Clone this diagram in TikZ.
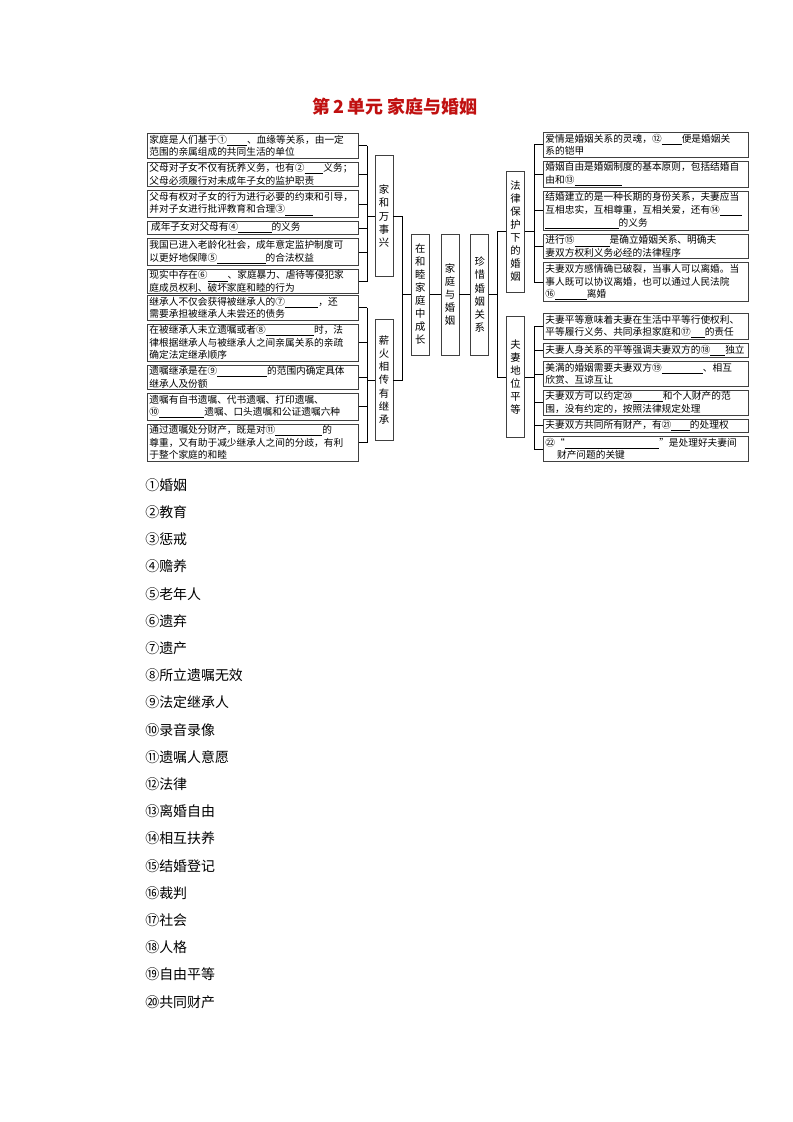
\documentclass[tikz,border=0pt]{standalone}
\usepackage{fontspec}
\setmainfont{Noto Sans CJK SC}
\usepackage{tikz}
\usetikzlibrary{positioning}
\definecolor{titlered}{RGB}{192,16,16}
\newcommand{\blank}[1]{\underline{\makebox[#1]{}}}

\begin{document}
\begin{tikzpicture}[x=0.2648mm, y=-0.2648mm, node distance=0.85mm, line width=0.5pt,
    lbox/.style={draw=black!75, line width=0.6pt, anchor=north west, align=left, text width=54.7mm, inner xsep=0.55mm, inner ysep=1.1pt, font=\fontsize{7.3}{9.5}\selectfont},
    rbox/.style={lbox, text width=53.1mm},
    vbox/.style={draw=black!75, line width=0.6pt, align=center, text width=4.77mm, inner sep=0pt, minimum height=32mm, font=\fontsize{7.8}{9.8}\selectfont},
    ans/.style={anchor=west, inner sep=0pt, font=\fontsize{10.5}{12}\selectfont}]
\useasboundingbox (0,0) rectangle (793,1122);

\node[text=titlered, font=\fontsize{13.5}{16}\selectfont\bfseries] (title) at (395,107) {第\,2\,单元\ 家庭与婚姻};

% centre column
\node[vbox] (core) at (450,294.5) {家\\庭\\与\\婚\\姻};
\node[vbox] (zai)  [left=2.9mm of core]  {在\\和\\睦\\家\\庭\\中\\成\\长};
\node[vbox] (zhen) [right=2.9mm of core] {珍\\惜\\婚\\姻\\关\\系};
\node[vbox] (jia)  at (384,216)   {家\\和\\万\\事\\兴};
\node[vbox] (xin)  at (384,380)   {薪\\火\\相\\传\\有\\继\\承};
\node[vbox] (fa)   at (515.5,231.5) {法\\律\\保\\护\\下\\的\\婚\\姻};
\node[vbox] (fu)   at (515.5,377) {夫\\妻\\地\\位\\平\\等};

% left boxes
\node[lbox] (l1) at (147,133) {家庭是人们基于①\blank{5.3mm}、血缘等关系，由一定\\范围的亲属组成的共同生活的单位};
\node[lbox, below=of l1] (l2) {父母对子女不仅有抚养义务，也有②\blank{5mm}义务；\\父母必须履行对未成年子女的监护职责};
\node[lbox, below=of l2] (l3) {父母有权对子女的行为进行必要的约束和引导，\\并对子女进行批评教育和合理③\blank{7.5mm}};
\node[lbox, below=of l3] (l4) {\,成年子女对父母有④\blank{8.8mm}的义务};
\node[lbox, below=of l4] (l5) {我国已进入老龄化社会，成年意定监护制度可\\以更好地保障⑤\blank{12.8mm}的合法权益};
\node[lbox, below=of l5] (l6) {现实中存在⑥\blank{5.3mm}、家庭暴力、虐待等侵犯家\\庭成员权利、破坏家庭和睦的行为};

\node[lbox] (l7) at (147,295) {继承人不仅会获得被继承人的⑦\blank{8.8mm}，还\\需要承担被继承人未尝还的债务};
\node[lbox, below=of l7] (l8) {在被继承人未立遗嘱或者⑧\blank{12.8mm}时，法\\律根据继承人与被继承人之间亲属关系的亲疏\\确定法定继承顺序};
\node[lbox, below=of l8] (l9) {遗嘱继承是在⑨\blank{13.2mm}的范围内确定具体\\继承人及份额};
\node[lbox, below=of l9] (l10) {遗嘱有自书遗嘱、代书遗嘱、打印遗嘱、\\⑩\blank{12mm}遗嘱、口头遗嘱和公证遗嘱六种};
\node[lbox, below=of l10] (l11) {通过遗嘱处分财产，既是对⑪\blank{12.4mm}的\\尊重，又有助于减少继承人之间的分歧，有利\\于整个家庭的和睦};

% right boxes
\node[rbox] (r1) at (543,132) {爱情是婚姻关系的灵魂，⑫\blank{5.3mm}便是婚姻关\\系的铠甲};
\node[rbox, below=of r1] (r2) {婚姻自由是婚姻制度的基本原则，包括结婚自\\由和⑬\blank{12.5mm}};
\node[rbox, below=of r2] (r3) {结婚建立的是一种长期的身份关系，夫妻应当\\互相忠实，互相尊重，互相关爱，还有⑭\blank{5.9mm}\\\blank{19.4mm}的义务};
\node[rbox, below=of r3] (r4) {进行⑮\blank{9.3mm}是确立婚姻关系、明确夫\\妻双方权利义务必经的法律程序};
\node[rbox, below=of r4] (r5) {夫妻双方感情确已破裂，当事人可以离婚。当\\事人既可以协议离婚，也可以通过人民法院\\⑯\blank{8.4mm}离婚};

\node[rbox] (r6) at (543,313) {夫妻平等意味着夫妻在生活中平等行使权利、\\平等履行义务、共同承担家庭和⑰\blank{3.7mm}的责任};
\node[rbox, below=of r6] (r7) {夫妻人身关系的平等强调夫妻双方的⑱\blank{4mm}独立};
\node[rbox, below=of r7] (r8) {美满的婚姻需要夫妻双方⑲\blank{10.9mm}、相互\\欣赏、互谅互让};
\node[rbox, below=of r8] (r9) {夫妻双方可以约定⑳\blank{8mm}和个人财产的范\\围，没有约定的，按照法律规定处理};
\node[rbox, below=of r9] (r10) {夫妻双方共同所有财产，有㉑\blank{4.9mm}的处理权};
\node[rbox, below=of r10] (r11) {㉒“\blank{25mm}”是处理好夫妻间\\\hspace*{1.2em}财产问题的关键};

% brackets
\coordinate (lb) at (367,0);
\coordinate (rb) at (534,0);
\foreach \i in {1,...,11} {
  \draw (l\i.east) -- (l\i.east -| lb);
  \draw (r\i.west) -- (r\i.west -| rb);
}
\draw (l1.east -| lb) -- (l6.east -| lb);
\draw (l7.east -| lb) -- (l11.east -| lb);
\draw (r1.west -| rb) -- (r5.west -| rb);
\draw (r6.west -| rb) -- (r11.west -| rb);
\draw (jia.west) -- (jia.west -| lb);
\draw (xin.west) -- (xin.west -| lb);
\draw (fa.east) -- (fa.east -| rb);
\draw (fu.east) -- (fu.east -| rb);

\draw (jia.east) -- ++(9,0) coordinate (ls) |- (xin.east);
\draw (zai.west) -- (zai.west -| ls);
\draw (zai.east) -- (core.west);
\draw (core.east) -- (zhen.west);
\draw (fa.west) -- ++(-9,0) coordinate (rs) |- (fu.west);
\draw (zhen.east) -- (zhen.east -| rs);

% answers
\foreach \t [count=\i] in {①婚姻,②教育,③惩戒,④赡养,⑤老年人,⑥遗弃,⑦遗产,⑧所立遗嘱无效,⑨法定继承人,⑩录音录像,⑪遗嘱人意愿,⑫法律,⑬离婚自由,⑭相互扶养,⑮结婚登记,⑯裁判,⑰社会,⑱人格,⑲自由平等,⑳共同财产}
  \node[ans] (a\i) at (145,457.8+27.2*\i) {\t};
\end{tikzpicture}
\end{document}
